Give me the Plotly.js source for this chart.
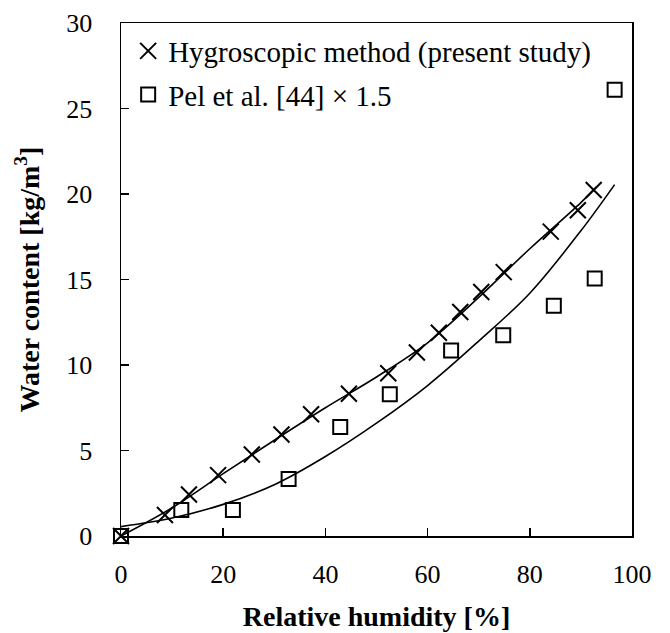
<!DOCTYPE html>
<html>
<head>
<meta charset="utf-8">
<script src="https://cdn.plot.ly/plotly-3.0.1.min.js"></script>
<style>html,body{margin:0;padding:0;background:#fff;}#chart{width:670px;height:633px;}</style>
</head>
<body>
<div id="chart"></div>
<script>
// Hygroscopic method (present study) measurements
const hygroRH = [0, 8.6, 13.3, 19.0, 25.6, 31.4, 37.2, 44.6, 52.3, 57.9, 62.2, 66.4, 70.5, 74.9, 84.1, 89.4, 92.5];
const hygroW  = [0, 1.23, 2.43, 3.56, 4.77, 5.94, 7.12, 8.32, 9.52, 10.73, 11.89, 13.10, 14.27, 15.43, 17.80, 19.05, 20.23];
// Pel et al. [44] x 1.5
const pelRH = [0, 11.8, 21.9, 32.8, 42.9, 52.6, 64.6, 74.8, 84.7, 92.7, 96.6];
const pelW  = [0, 1.52, 1.52, 3.33, 6.38, 8.29, 10.85, 11.74, 13.46, 15.06, 26.1];
// Fitted curves
const fitHygroRH = [0, 10, 20, 30, 40, 50, 60, 70, 80, 90, 93];
const fitHygroW  = [0, 1.65, 3.65, 5.6, 7.5, 9.3, 11.3, 13.95, 16.8, 19.5, 20.4];
const fitPelRH = [0, 10, 20, 30, 40, 50, 60, 70, 80, 90, 96.6];
const fitPelW  = [0.55, 1.05, 1.85, 3.0, 4.65, 6.6, 8.8, 11.4, 14.2, 17.85, 20.55];

const xTicks = [0, 20, 40, 60, 80, 100];
const yTicks = [0, 5, 10, 15, 20, 25, 30];
const legendNames = ['Hygroscopic method (present study)', 'Pel et al. [44] × 1.5'];

const FONT = 'Liberation Serif';

const traces = [
  {x: fitHygroRH, y: fitHygroW, mode: 'lines', line: {color: '#000', width: 1.6, shape: 'spline'}, showlegend: false, hoverinfo: 'skip'},
  {x: fitPelRH, y: fitPelW, mode: 'lines', line: {color: '#000', width: 1.6, shape: 'spline'}, showlegend: false, hoverinfo: 'skip'},
  {x: hygroRH, y: hygroW, mode: 'markers', name: legendNames[0], legendgroup: 'a',
   marker: {symbol: 'x-thin-open', size: 16, color: '#000', line: {color: '#000', width: 2}}, cliponaxis: false},
  {x: pelRH, y: pelW, mode: 'markers', name: legendNames[1], legendgroup: 'b',
   marker: {symbol: 'square-open', size: 14, color: '#000', line: {color: '#000', width: 2}}, cliponaxis: false}
];

const axisCommon = {
  showline: true, linecolor: '#000', linewidth: 1.5, mirror: true,
  ticks: 'inside', ticklen: 8, tickwidth: 1.5, tickcolor: '#000',
  showgrid: false, zeroline: false,
  tickfont: {family: FONT, size: 26, color: '#000'}
};

const layout = {
  width: 670, height: 633,
  margin: {l: 121, r: 38, t: 23, b: 97},
  paper_bgcolor: '#fff', plot_bgcolor: '#fff',
  font: {family: FONT, color: '#000'},
  showlegend: true,
  legend: {x: 0.014, y: 0.995, xanchor: 'left', yanchor: 'top', bgcolor: 'rgba(0,0,0,0)',
           font: {family: FONT, size: 29, color: '#000'}, traceorder: 'grouped', tracegroupgap: 3, itemwidth: 30},
  xaxis: Object.assign({}, axisCommon, {
    range: [0, 100], tickmode: 'array', tickvals: xTicks, ticktext: xTicks.map(String),
    ticklabelstandoff: 14,
    title: {text: '<b>Relative humidity [%]</b>', font: {family: FONT, size: 28, color: '#000'}, standoff: 18}
  }),
  yaxis: Object.assign({}, axisCommon, {
    range: [0, 30], tickmode: 'array', tickvals: yTicks, ticktext: yTicks.map(String),
    ticklabelstandoff: 22,
    title: {text: '<b>Water content [kg/m<sup>3</sup>]</b>', font: {family: FONT, size: 28, color: '#000'}, standoff: 18}
  })
};

Plotly.newPlot('chart', traces, layout, {displayModeBar: false, staticPlot: true});
</script>
</body>
</html>
